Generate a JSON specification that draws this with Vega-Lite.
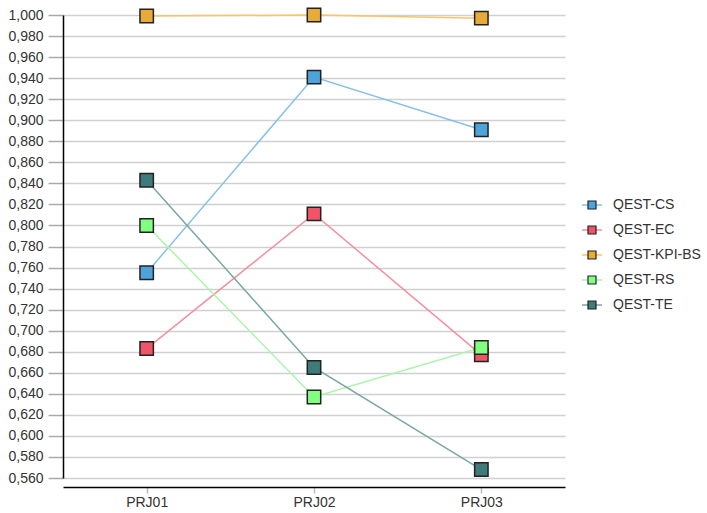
{
  "$schema": "https://vega.github.io/schema/vega-lite/v6.json",
  "width": 502,
  "height": 463,
  "autosize": {"type": "none"},
  "padding": {"left": 63, "top": 15, "right": 142, "bottom": 35},
  "background": "white",
  "config": {
    "view": {"stroke": null},
    "font": "Liberation Sans",
    "axis": {"labelFont": "Liberation Sans", "labelFontSize": 14, "labelColor": "#333333"},
    "legend": {"labelFont": "Liberation Sans", "labelFontSize": 14, "labelColor": "#333333"}
  },
  "data": {
    "values": [
      {"project": "PRJ01", "series": "QEST-CS", "value": 0.755},
      {"project": "PRJ02", "series": "QEST-CS", "value": 0.941},
      {"project": "PRJ03", "series": "QEST-CS", "value": 0.891},
      {"project": "PRJ01", "series": "QEST-EC", "value": 0.683},
      {"project": "PRJ02", "series": "QEST-EC", "value": 0.811},
      {"project": "PRJ03", "series": "QEST-EC", "value": 0.677},
      {"project": "PRJ01", "series": "QEST-KPI-BS", "value": 0.999},
      {"project": "PRJ02", "series": "QEST-KPI-BS", "value": 1.0},
      {"project": "PRJ03", "series": "QEST-KPI-BS", "value": 0.997},
      {"project": "PRJ01", "series": "QEST-RS", "value": 0.8},
      {"project": "PRJ02", "series": "QEST-RS", "value": 0.637},
      {"project": "PRJ03", "series": "QEST-RS", "value": 0.684},
      {"project": "PRJ01", "series": "QEST-TE", "value": 0.843},
      {"project": "PRJ02", "series": "QEST-TE", "value": 0.665},
      {"project": "PRJ03", "series": "QEST-TE", "value": 0.568}
    ]
  },
  "encoding": {
    "x": {
      "field": "project",
      "type": "nominal",
      "scale": {"type": "point", "padding": 0.5},
      "axis": {
        "title": null,
        "labelAngle": 0,
        "offset": 9,
        "domain": true,
        "domainColor": "#000000",
        "domainWidth": 1.5,
        "tickColor": "#bbbbbb",
        "tickWidth": 1.5,
        "tickSize": 6,
        "labelPadding": 2,
        "grid": false
      }
    },
    "y": {
      "field": "value",
      "type": "quantitative",
      "scale": {"domain": [0.56, 1.0], "nice": false, "zero": false},
      "axis": {
        "title": null,
        "offset": 0,
        "values": [0.56, 0.58, 0.6, 0.62, 0.64, 0.66, 0.68, 0.7, 0.72, 0.74, 0.76, 0.78, 0.8, 0.82, 0.84, 0.86, 0.88, 0.9, 0.92, 0.94, 0.96, 0.98, 1.0],
        "labelExpr": "replace(format(datum.value, '.3f'), '.', ',')",
        "domain": true,
        "domainColor": "#000000",
        "domainWidth": 1.5,
        "tickColor": "#aaaaaa",
        "tickWidth": 1.5,
        "tickSize": 15,
        "labelPadding": 5,
        "grid": true,
        "gridColor": "#d0d0d0",
        "gridWidth": 1.5
      }
    }
  },
  "layer": [
    {
      "mark": {"type": "line", "strokeWidth": 1.5},
      "encoding": {
        "stroke": {
          "field": "series",
          "type": "nominal",
          "scale": {
            "range": ["#86c1e6", "#f2919c", "#f4c76f", "#abf5ab", "#7aa6a4"]
          },
          "legend": {
            "title": null,
            "orient": "none",
            "legendX": 522,
            "legendY": 183,
            "symbolType": "M-2.5,0H-1M1,0H2.5",
            "symbolSize": 64,
            "symbolStrokeWidth": 1.5,
            "symbolFillColor": "transparent",
            "labelOpacity": 0,
            "rowPadding": 11,
            "labelOffset": 14
          }
        }
      }
    },
    {
      "mark": {"type": "point", "shape": "square", "filled": true, "size": 180, "stroke": "#222222", "strokeWidth": 1.5, "opacity": 1},
      "encoding": {
        "fill": {
          "field": "series",
          "type": "nominal",
          "scale": {
            "domain": ["QEST-CS", "QEST-EC", "QEST-KPI-BS", "QEST-RS", "QEST-TE"],
            "range": ["#4ea4da", "#f05468", "#e8aa38", "#80ff80", "#3e7b79"]
          },
          "legend": {
            "title": null,
            "orient": "none",
            "legendX": 522,
            "legendY": 183,
            "symbolType": "square",
            "symbolSize": 64,
            "symbolStrokeColor": "#222222",
            "symbolStrokeWidth": 1.2,
            "symbolOpacity": 1,
            "rowPadding": 11,
            "labelOffset": 14
          }
        }
      }
    }
  ]
}
